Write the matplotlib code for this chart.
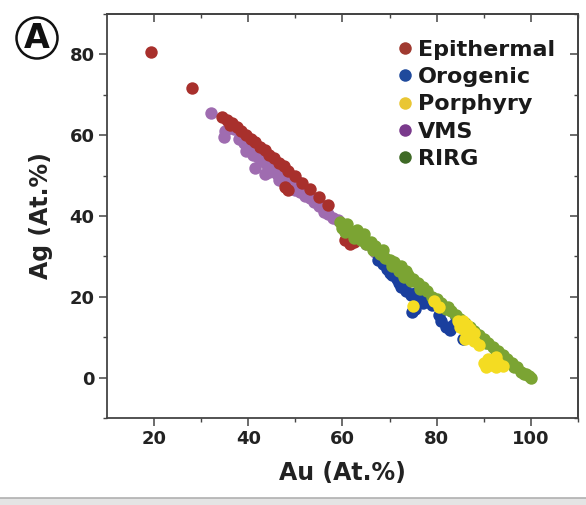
import matplotlib
matplotlib.use("Agg")
import matplotlib.pyplot as plt
from matplotlib.lines import Line2D
from matplotlib.patches import Rectangle

# ---------------- data (Au at.%, Ag at.%) ----------------
series_names = ["Epithermal", "Orogenic", "Porphyry", "VMS", "RIRG"]

epi_au = [19.3, 28.0, 34.5, 35.5, 36.2, 36.5, 37.5, 38.5, 39.5, 40.5, 41.5, 42.5, 43.5,
          44.5, 45.5, 46.5, 47.5, 47.8, 48.5, 48.5, 50.0, 51.5, 53.0, 55.0, 57.0,
          60.5, 61.5, 62.5, 63.0]
epi_ag = [80.5, 71.8, 64.5, 63.8, 62.5, 63.0, 62.0, 61.0, 60.0, 59.0, 58.2, 57.2, 56.3,
          55.2, 54.3, 53.2, 52.3, 47.2, 51.2, 46.5, 49.8, 48.2, 46.8, 44.8, 42.8,
          34.0, 33.0, 33.5, 35.0]

vms_au = [32.0, 34.8, 35.0, 36.0, 37.0, 38.0, 39.0, 39.5, 40.0, 41.0, 41.5, 42.0, 43.0,
          43.5, 44.0, 44.5, 45.0, 46.0, 46.5, 47.0, 48.0, 49.0, 50.0, 50.5, 51.0, 52.0,
          53.0, 54.0, 55.0, 56.0, 56.5, 57.0, 58.0, 59.0, 60.0, 61.0, 62.0, 63.5, 65.0,
          67.0, 69.0, 71.0, 77.5]
vms_ag = [65.5, 59.5, 61.0, 62.0, 61.5, 59.0, 58.0, 56.0, 56.5, 55.0, 52.0, 54.5, 53.5,
          50.5, 52.5, 51.0, 51.5, 50.5, 49.0, 49.5, 48.5, 47.5, 46.5, 48.5, 46.0, 45.0,
          44.5, 43.5, 42.5, 41.0, 42.5, 40.5, 39.5, 39.0, 38.0, 36.5, 35.5, 34.5, 33.0,
          31.0, 29.0, 27.5, 20.5]

oro_au = [67.5, 68.5, 69.5, 70.0, 70.5, 71.5, 72.0, 72.5, 73.5, 74.5, 74.7, 75.5, 75.5,
          76.5, 77.0, 78.0, 79.0, 80.5, 81.0, 82.0, 82.8, 83.5, 84.0, 85.5, 86.5]
oro_ag = [29.0, 28.0, 27.0, 26.0, 25.5, 24.5, 23.5, 22.5, 21.5, 20.5, 16.3, 21.0, 17.0,
          19.5, 18.5, 19.5, 18.0, 15.5, 14.0, 12.5, 11.8, 13.0, 15.0, 9.5, 11.0]

rirg_au = [59.5, 60.0, 60.5, 61.0, 62.0, 62.5, 63.0, 64.0, 64.5, 65.0, 66.0, 66.5, 67.0,
           68.0, 68.5, 69.0, 70.0, 70.5, 71.0, 72.0, 72.5, 73.0, 73.5, 74.0, 74.5, 75.0,
           76.0, 76.5, 77.0, 78.0, 79.0, 79.5, 80.0, 81.0, 82.0, 82.5, 83.0, 84.0, 85.0,
           85.5, 86.0, 87.0, 88.0, 88.5, 89.0, 90.0, 90.5, 91.0, 92.0, 92.5, 93.0, 94.0,
           94.5, 95.0, 96.0, 96.5, 97.0, 98.0, 98.5, 99.0, 99.5, 100.0]
rirg_ag = [38.5, 37.0, 36.0, 38.0, 36.0, 34.5, 36.5, 34.0, 35.5, 33.0, 33.5, 31.5, 32.5,
           30.5, 31.5, 29.5, 29.0, 27.5, 28.5, 26.5, 27.5, 25.0, 26.5, 25.5, 24.0, 24.5,
           23.5, 22.0, 22.5, 21.5, 20.0, 19.0, 19.5, 18.5, 17.0, 17.5, 16.5, 15.5, 14.5,
           13.5, 13.5, 12.5, 11.5, 10.5, 10.5, 9.5, 8.5, 8.5, 7.5, 6.5, 6.5, 5.5,
           4.5, 4.5, 3.5, 2.5, 2.5, 1.5, 1.0, 1.0, 0.3, 0.0]

por_au = [75.0, 79.5, 80.5, 84.5, 85.0, 85.5, 86.0, 86.0, 86.5, 86.5, 87.0, 87.5, 88.0,
          88.0, 89.0, 90.0, 90.5, 91.0, 91.5, 92.0, 92.5, 92.5, 93.0, 94.0]
por_ag = [17.8, 19.0, 17.5, 14.0, 12.5, 14.0, 11.5, 9.5, 10.0, 13.0, 12.0, 10.5, 9.0,
          11.0, 8.0, 3.5, 2.5, 4.5, 3.0, 4.0, 2.5, 5.0, 3.5, 2.8]

x_ticks = [20, 40, 60, 80, 100]
y_ticks = [0, 20, 40, 60, 80]

data_colors = {"Epithermal": "#a8302c", "Orogenic": "#1a3f9e", "Porphyry": "#f4dc22",
               "VMS": "#9f6cb0", "RIRG": "#7ba433"}
legend_colors = {"Epithermal": "#a03a30", "Orogenic": "#1f4a9c", "Porphyry": "#e9c634",
                 "VMS": "#7a3a8c", "RIRG": "#3f6a26"}

# ---------------- figure ----------------
fig = plt.figure(figsize=(5.86, 5.05), dpi=100)
ax = fig.add_axes([0.1826, 0.1723, 0.8037, 0.8])

s = 80
ax.scatter(vms_au, vms_ag, s=s, color=data_colors["VMS"], linewidths=0, zorder=2)
ax.scatter(epi_au, epi_ag, s=s, color=data_colors["Epithermal"], linewidths=0, zorder=3)
ax.scatter(oro_au, oro_ag, s=s, color=data_colors["Orogenic"], linewidths=0, zorder=3)
ax.scatter(rirg_au, rirg_ag, s=s, color=data_colors["RIRG"], linewidths=0, zorder=4)
ax.scatter(por_au, por_ag, s=s, color=data_colors["Porphyry"], linewidths=0, zorder=5)

ax.set_xlim(10, 110)
ax.set_ylim(-10, 90)
ax.set_xticks(x_ticks)
ax.set_yticks(y_ticks)
ax.set_xticks([30, 50, 70, 90, 110], minor=True)
ax.set_yticks([-10, 10, 30, 50, 70, 90], minor=True)

spine_col = "#444444"
for sp in ax.spines.values():
    sp.set_color(spine_col)
    sp.set_linewidth(1.3)

ax.tick_params(axis="both", which="major", direction="out", length=6, width=1.1,
               color=spine_col, labelsize=13, pad=3)
ax.tick_params(axis="both", which="minor", direction="out", length=3, width=1.0,
               color=spine_col)
for lab in ax.get_xticklabels() + ax.get_yticklabels():
    lab.set_fontweight("bold")
    lab.set_color("#222222")

# top/right inward ticks
secx = ax.secondary_xaxis("top")
secx.set_xticks(x_ticks)
secx.set_xticks([30, 50, 70, 90, 110], minor=True)
secx.tick_params(axis="x", which="major", direction="in", length=6, width=1.1,
                 color=spine_col, labeltop=False)
secx.tick_params(axis="x", which="minor", direction="in", length=3, width=1.0,
                 color=spine_col)
secx.spines["top"].set_color(spine_col)
secx.spines["top"].set_linewidth(1.3)
secy = ax.secondary_yaxis("right")
secy.set_yticks(y_ticks)
secy.set_yticks([-10, 10, 30, 50, 70, 90], minor=True)
secy.tick_params(axis="y", which="major", direction="in", length=6, width=1.1,
                 color=spine_col, labelright=False)
secy.tick_params(axis="y", which="minor", direction="in", length=3, width=1.0,
                 color=spine_col)
secy.spines["right"].set_color(spine_col)
secy.spines["right"].set_linewidth(1.3)

ax.set_xlabel("Au (At.%)", fontsize=17, fontweight="semibold", color="#222222", labelpad=9)
ax.set_ylabel("Ag (At.%)", fontsize=17, fontweight="bold", color="#222222", labelpad=12)

handles = [Line2D([0], [0], marker="o", linestyle="none", markersize=9,
                  markerfacecolor=legend_colors[n], markeredgewidth=0) for n in series_names]
leg = ax.legend(handles, series_names, loc="upper right", bbox_to_anchor=(0.985, 0.975),
                frameon=False, prop={"weight": "bold", "size": 16},
                handletextpad=0.1, labelspacing=0.33, handlelength=1.0, borderpad=0.2)
for t in leg.get_texts():
    t.set_color("#1a1a1a")

# circled panel letter
fig.text(37 / 586, 1 - 38 / 505, "A", fontsize=24, fontweight="bold", ha="center",
         va="center", color="#111111",
         bbox=dict(boxstyle="circle,pad=0.12", facecolor="none", edgecolor="#111111",
                   linewidth=1.8))

# bottom strip (cut-off neighbour panel)
fig.patches.append(Rectangle((0, 0), 1, 7 / 505, transform=fig.transFigure,
                             facecolor="#e4e4e4", edgecolor="none", zorder=0))
fig.lines.append(Line2D([0, 1], [7 / 505, 7 / 505], transform=fig.transFigure,
                        color="#b0b0b0", linewidth=1.2))

fig.savefig("out.png", dpi=100)
